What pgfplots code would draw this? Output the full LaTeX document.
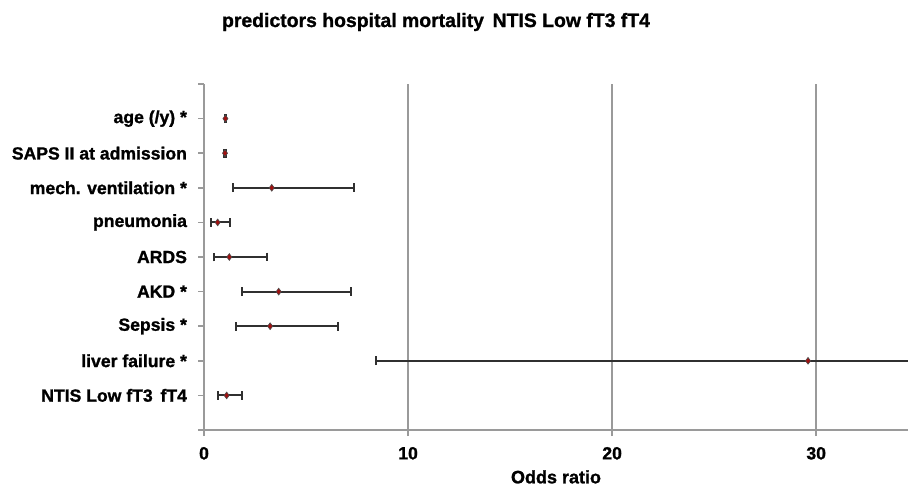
\documentclass[border=0pt]{standalone}
\usepackage{fontspec}
\setmainfont{Liberation Sans}[BoldFeatures={FakeBold=1.2}]
\usepackage{pgfplots}
\usepackage{pgfplotstable}
\pgfplotsset{compat=1.18}
\definecolor{gridgray}{HTML}{9A9A9A}
\definecolor{mk}{HTML}{A01010}
\definecolor{barc}{HTML}{303030}
\pgfplotstableread{
pos or lo hi
9 1.05 1.02 1.09
8 1.03 1.00 1.06
7 3.32 1.44 7.37
6 0.67 0.36 1.29
5 1.24 0.47 3.11
4 3.66 1.85 7.18
3 3.24 1.59 6.57
2 29.6 8.44 100
1 1.11 0.70 1.88
}\ortable
\begin{document}
\begin{tikzpicture}[x=1pt,y=1pt]
\useasboundingbox (0,0) rectangle (454,244.5);
\node[font=\bfseries\fontsize{9.7}{12}\selectfont] at (218,233.5) {predictors hospital mortality\, NTIS Low fT3 fT4};
\begin{axis}[
  at={(102pt,29.5pt)}, anchor=south west,
  scale only axis, width=352pt, height=173pt,
  xmin=0, xmax=34.5, ymin=0, ymax=10,
  axis x line*=bottom, axis y line*=left,
  axis line style={gridgray, line width=0.8pt, -},
  xtick={0,10,20,30},
  ytick={0,1,2,3,4,5,6,7,8,9,10},
  yticklabels={,NTIS Low fT3\, fT4,liver failure *,Sepsis *,AKD *,ARDS,pneumonia,mech. ventilation *,SAPS II at admission,age (/y) *,},
  tick align=outside, major tick length=3pt,
  tick style={gridgray, line width=0.8pt},
  xmajorgrids, grid style={gridgray, line width=0.8pt},
  ticklabel style={font=\bfseries\fontsize{8.8}{10}\selectfont},
  /pgf/number format/assume math mode=true,
  yticklabel style={xshift=-2pt},
  xticklabel style={yshift=-2pt},
  xlabel={Odds ratio},
  xlabel style={font=\bfseries\fontsize{9}{10}\selectfont, yshift=1.5pt},
]
\addplot[barc, line width=1pt, only marks,
  mark=diamond*, mark size=1.7pt, mark options={fill=mk, draw=black!70, line width=0.3pt},
  error bars/.cd, x dir=both, x explicit,
  error mark=|,
  error mark options={barc, line width=1pt, mark size=2.2pt},
  error bar style={barc, line width=1pt}]
  table[x=or, y=pos, x error plus expr=\thisrow{hi}-\thisrow{or}, x error minus expr=\thisrow{or}-\thisrow{lo}] {\ortable};
\end{axis}
\end{tikzpicture}
\end{document}
